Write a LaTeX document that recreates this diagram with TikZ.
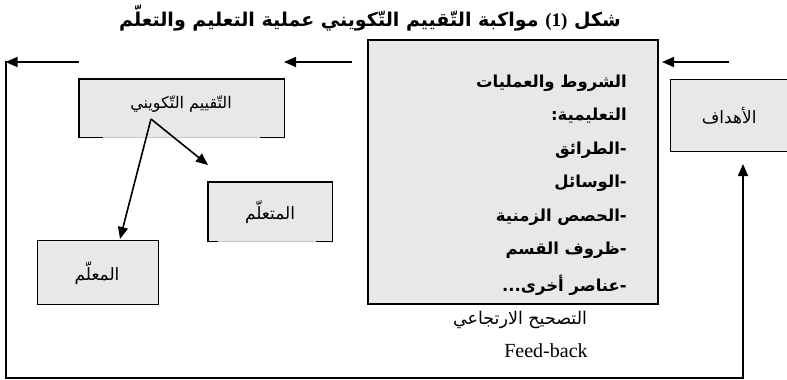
\documentclass[tikz,border=0pt]{standalone}
\usepackage{fontspec}
\setmainfont{Liberation Serif}
\newfontfamily\arfont[Script=Arabic]{DejaVu Sans}
\TeXXeTstate=1
\usetikzlibrary{arrows.meta}
\definecolor{boxgray}{HTML}{E8E8E8}
\begin{document}
\begin{tikzpicture}[x=1pt,y=-1pt,
  box/.style={fill=boxgray, draw=black, line width=1.3pt, inner sep=0pt, anchor=north west},
  openbox/.style={fill=boxgray, draw=none, inner sep=0pt, anchor=north west},
  lbl/.style={font=\arfont\fontsize{17}{20}\selectfont, inner sep=0pt},
  cond/.style={font=\arfont\bfseries\fontsize{16.5}{20}\selectfont, inner sep=0pt, anchor=base east},
  arr/.style={line width=1.6pt, -{Triangle[length=12pt,width=10pt]}},
  line/.style={line width=1.3pt}]
\useasboundingbox (0,0) rectangle (787,380);
% title
\node[font=\arfont\bfseries\fontsize{19}{22}\selectfont, inner sep=0pt] (title) at (370,18)
  {\beginR شكل \beginL{\rmfamily\bfseries (1)}\endL{} مواكبة التّقييم التّكويني عملية التعليم والتعلّم\endR};
% conditions box
\node[box, minimum width=289pt, minimum height=263pt] (condbox) at (368,40) {};
\node[cond] (c1) at (627,87) {\beginR الشروط والعمليات\endR};
\node[cond] (c2) at (627,120) {\beginR التعليمية:\endR};
\node[cond] (c3) at (627,154) {\beginR الطرائق\endR-};
\node[cond] (c4) at (627,187) {\beginR الوسائل\endR-};
\node[cond] (c5) at (627,221) {\beginR الحصص الزمنية\endR-};
\node[cond] (c6) at (627,254) {\beginR ظروف القسم\endR-};
\begin{scope}
\clip (condbox.north west) rectangle (condbox.south east);
\node[cond] (c7) at (627,291) {\beginR عناصر أخرى...\endR-};
\end{scope}
\draw[line] (condbox.north west) rectangle (condbox.south east);
% goals
\node[box, minimum width=117pt, minimum height=72pt] (goals) at (670,79) {};
\node[lbl] (goalstxt) at (goals) {\beginR الأهداف\endR};
% formative evaluation
\node[openbox, minimum width=205pt, minimum height=58pt] (eval) at (79,79) {};
\draw[line] (eval.south west) -- (eval.north west) -- (eval.north east) -- (eval.south east);
\draw[gray!45, line width=1pt] ([xshift=24pt]eval.south west) -- ([xshift=-24pt]eval.south east);
\draw[line] ([xshift=-0.65pt]eval.south west) -- ([xshift=24pt]eval.south west);
\draw[line] ([xshift=0.65pt]eval.south east) -- ([xshift=-24pt]eval.south east);
\node[lbl, font=\arfont\fontsize{16}{19}\selectfont] (evaltxt) at (181,104) {\beginR التّقييم التّكويني\endR};
% learner
\node[openbox, minimum width=124pt, minimum height=59pt] (learner) at (208,182) {};
\draw[line] (learner.south west) -- (learner.north west) -- (learner.north east) -- (learner.south east);
\draw[gray!45, line width=1pt] ([xshift=10pt]learner.south west) -- ([xshift=-16pt]learner.south east);
\draw[line] ([xshift=-0.65pt]learner.south west) -- ([xshift=10pt]learner.south west);
\draw[line] ([xshift=0.65pt]learner.south east) -- ([xshift=-16pt]learner.south east);
\node[lbl] (learnertxt) at (270,212) {\beginR المتعلّم\endR};
% teacher
\node[box, minimum width=121pt, minimum height=64pt] (teacher) at (37,240) {};
\node[lbl] (teachertxt) at (97,273) {\beginR المعلّم\endR};
% arrows from evaluation
\coordinate (src) at (151,119);
\coordinate (tipL) at (208,165);
\coordinate (tipT) at (120,239);
\draw[arr] (src) -- (tipL);
\draw[arr] (src) -- (tipT);
% top arrows
\coordinate (a1s) at (729,62);
\coordinate (a1e) at (662,62);
\coordinate (a2s) at (352,62);
\coordinate (a2e) at (284,62);
\coordinate (a3s) at (79,62);
\coordinate (a3e) at (5.5,62);
\draw[arr] (a1s) -- (a1e);
\draw[arr] (a2s) -- (a2e);
\draw[arr] (a3s) -- (a3e);
% feedback loop
\coordinate (fbTL) at (6,61);
\coordinate (fbBL) at (6,378);
\coordinate (fbBR) at (743,378);
\coordinate (fbMid) at (743,200);
\coordinate (fbTip) at (743,164);
\draw[line] (fbTL) -- (fbBL) -- (fbBR) -- (fbMid);
\draw[arr] (fbMid) -- (fbTip);
% feedback labels
\node[lbl, font=\arfont\fontsize{17.5}{20}\selectfont] (fb1) at (520,320) {\beginR التصحيح الارتجاعي\endR};
\node[font=\fontsize{20}{22}\selectfont, inner sep=0pt] (fb2) at (546,351) {Feed-back};
\end{tikzpicture}
\end{document}
